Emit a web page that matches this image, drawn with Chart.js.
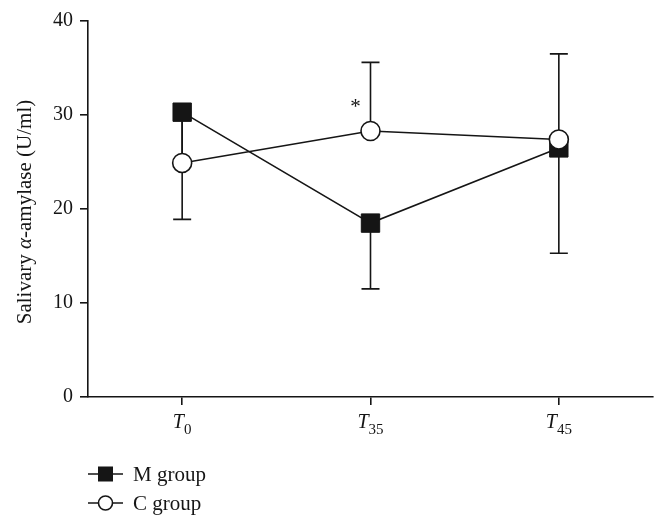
<!DOCTYPE html>
<html>
<head>
<meta charset="utf-8">
<script src="https://cdn.jsdelivr.net/npm/chart.js@4.4.1/dist/chart.umd.min.js"></script>
<style>
    body { margin: 0; background: #fff; }
</style>
</head>
<body>
<canvas id="amylaseChart" width="668" height="527"></canvas>
<script>
// time points are drawn as T with these subscripts
const timePoints = ['0', '35', '45'];
const mGroup = [30.3, 18.5, 26.5];
const cGroup = [24.9, 28.3, 27.4];
// error bars: M group drawn downwards, C group upwards
const mLowerBar = [18.9, 11.5, 15.3];
const cUpperBar = [30.3, 35.6, 36.5];
const significant = [false, true, false];

const ink = '#151515';
const serif = "'Liberation Serif', 'DejaVu Serif', serif";

function errorLine(ctx, x, yFrom, yTo) {
    ctx.beginPath();
    ctx.moveTo(x, yFrom);
    ctx.lineTo(x, yTo);
    ctx.moveTo(x - 9, yTo);
    ctx.lineTo(x + 9, yTo);
    ctx.stroke();
}

const errorBars = {
    id: 'errorBars',
    beforeDatasetsDraw: (chart) => {
        const {ctx, scales: {x, y}} = chart;
        ctx.save();
        ctx.strokeStyle = ink;
        ctx.lineWidth = 1.6;
        timePoints.forEach((tp, i) => {
            const px = x.getPixelForValue(i);
            errorLine(ctx, px, y.getPixelForValue(mGroup[i]), y.getPixelForValue(mLowerBar[i]));
            errorLine(ctx, px, y.getPixelForValue(cGroup[i]), y.getPixelForValue(cUpperBar[i]));
        });
        ctx.restore();
    }
};

const extraText = {
    id: 'extraText',
    afterDraw: (chart) => {
        const {ctx, scales: {x, y}} = chart;
        ctx.save();
        ctx.fillStyle = ink;

        // x tick labels with subscripts
        ctx.textBaseline = 'alphabetic';
        timePoints.forEach((tp, i) => {
            const px = x.getPixelForValue(i);
            ctx.font = 'italic 20px ' + serif;
            const tw = ctx.measureText('T').width;
            ctx.font = '15px ' + serif;
            const sw = ctx.measureText(tp).width;
            const left = px - (tw + sw) / 2;
            ctx.font = 'italic 20px ' + serif;
            ctx.textAlign = 'left';
            ctx.fillText('T', left, 428);
            ctx.font = '15px ' + serif;
            ctx.fillText(tp, left + tw, 434);
        });

        // significance marks
        ctx.font = '21px ' + serif;
        ctx.textAlign = 'center';
        significant.forEach((s, i) => {
            if (!s) return;
            ctx.fillText('*', x.getPixelForValue(i) - 15, y.getPixelForValue(cGroup[i]) - 18);
        });

        // y axis title, α in italic
        const parts = [['Salivary ', ''], ['α', 'italic '], ['-amylase (U/ml)', '']];
        ctx.translate(25, (y.top + y.bottom) / 2 + 3);
        ctx.rotate(-Math.PI / 2);
        ctx.textBaseline = 'middle';
        ctx.textAlign = 'left';
        let total = 0;
        parts.forEach(([t, st]) => { ctx.font = st + '21px ' + serif; total += ctx.measureText(t).width; });
        let cx = -total / 2;
        parts.forEach(([t, st]) => {
            ctx.font = st + '21px ' + serif;
            ctx.fillText(t, cx, 0);
            cx += ctx.measureText(t).width;
        });
        ctx.restore();

        // legend
        ctx.save();
        ctx.strokeStyle = ink;
        ctx.lineWidth = 1.6;
        const rows = [chart.data.datasets[1], chart.data.datasets[0]];
        rows.forEach((ds, k) => {
            const ly = 474 + k * 29;
            ctx.beginPath();
            ctx.moveTo(88, ly);
            ctx.lineTo(123, ly);
            ctx.stroke();
            ctx.fillStyle = ds.pointBackgroundColor;
            if (ds.pointStyle === 'rect') {
                ctx.fillRect(98, ly - 7.5, 15, 15);
            } else {
                ctx.beginPath();
                ctx.arc(105.5, ly, 7, 0, Math.PI * 2);
                ctx.fill();
                ctx.stroke();
            }
            ctx.fillStyle = ink;
            ctx.font = '21px ' + serif;
            ctx.textBaseline = 'middle';
            ctx.fillText(ds.label, 133, ly + 1);
        });
        ctx.restore();
    }
};

new Chart(document.getElementById('amylaseChart').getContext('2d'), {
    type: 'line',
    data: {
        labels: timePoints.map(tp => 'T' + tp),
        datasets: [
            {
                label: 'C group',
                data: cGroup,
                order: 1,
                borderColor: ink,
                borderWidth: 1.6,
                tension: 0,
                fill: false,
                pointStyle: 'circle',
                pointRadius: 9.5,
                pointBackgroundColor: '#ffffff',
                pointBorderColor: ink,
                pointBorderWidth: 1.6,
            },
            {
                label: 'M group',
                data: mGroup,
                order: 2,
                borderColor: ink,
                borderWidth: 1.6,
                tension: 0,
                fill: false,
                pointStyle: 'rect',
                pointRadius: 13,
                pointBackgroundColor: ink,
                pointBorderColor: ink,
                pointBorderWidth: 1,
            },
        ]
    },
    options: {
        responsive: false,
        animation: false,
        layout: {padding: {top: 21, right: 15, left: 0, bottom: 0}},
        scales: {
            x: {
                type: 'category',
                offset: true,
                grid: {drawOnChartArea: false, drawTicks: true, tickLength: 8, color: ink, lineWidth: 1.6},
                border: {color: ink, width: 1.6},
                ticks: {color: 'rgba(0,0,0,0)'},
                afterFit: (s) => { s.height = 130; },
            },
            y: {
                min: 0,
                max: 40,
                grid: {drawOnChartArea: false, drawTicks: true, tickLength: 8, color: ink, lineWidth: 1.6},
                border: {color: ink, width: 1.6},
                ticks: {stepSize: 10, color: ink, padding: 7, font: {family: serif, size: 20}},
                afterFit: (s) => { s.width = 88; },
            }
        },
        plugins: {
            legend: {display: false},
            tooltip: {enabled: false},
        }
    },
    plugins: [errorBars, extraText]
});
</script>
</body>
</html>
